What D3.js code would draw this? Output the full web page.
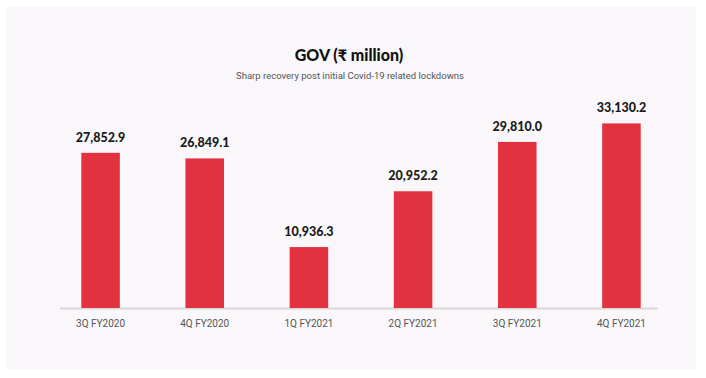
<!DOCTYPE html>
<html><head><meta charset="utf-8">
<script src="https://cdn.jsdelivr.net/npm/d3@7/dist/d3.min.js"></script>
<style>
html,body{margin:0;padding:0;background:#fff;}
svg{display:block;}
</style></head>
<body>
<svg id="chart" width="706" height="378"></svg>
<script>
const categories = ["3Q FY2020","4Q FY2020","1Q FY2021","2Q FY2021","3Q FY2021","4Q FY2021"];
const values = [27852.9, 26849.1, 10936.3, 20952.2, 29810.0, 33130.2];
const valueLabels = ["27,852.9","26,849.1","10,936.3","20,952.2","29,810.0","33,130.2"];
const title = "GOV (₹ million)";
const subtitle = "Sharp recovery post initial Covid-19 related lockdowns";

const svg = d3.select("#chart");

svg.append("rect").attr("x",6).attr("y",7).attr("width",690).attr("height",362)
  .attr("rx",4).attr("fill","#f9f7fa");

const x = d3.scaleBand().domain(categories).range([49, 673]).paddingInner(0.63).paddingOuter(0.31);
const y = d3.scaleLinear().domain([0, 35000]).range([308, 113]);

svg.append("text").attr("x",349).attr("y",61).attr("text-anchor","middle")
  .attr("font-family","Lato, 'Open Sans', sans-serif").attr("font-weight",900)
  .attr("font-size",16).attr("fill","#111").text(title);
svg.append("text").attr("x",350).attr("y",79).attr("text-anchor","middle")
  .attr("font-family","Roboto, 'Open Sans', sans-serif").attr("font-size",9.5)
  .attr("fill","#555").text(subtitle);

svg.append("line").attr("x1",60).attr("x2",658).attr("y1",308.5).attr("y2",308.5)
  .attr("stroke","#d9d7dc").attr("stroke-width",2);

svg.selectAll("rect.bar").data(values).join("rect").attr("class","bar")
  .attr("x",(d,i)=>x(categories[i])).attr("width",x.bandwidth())
  .attr("y",d=>y(d)).attr("height",d=>y(0)-y(d)).attr("fill","#e2323f");

svg.selectAll("text.val").data(values).join("text").attr("class","val")
  .attr("x",(d,i)=>x(categories[i])+x.bandwidth()/2).attr("y",d=>y(d)-11)
  .attr("text-anchor","middle").attr("font-family","Lato, 'Open Sans', sans-serif")
  .attr("font-weight",900).attr("font-size",12.5).attr("fill","#1a1a1a")
  .text((d,i)=>valueLabels[i]);

const axis = d3.axisBottom(x).tickSize(0).tickPadding(0);
const g = svg.append("g").attr("transform","translate(0,320)").call(axis);
g.select(".domain").remove();
g.selectAll("text").attr("font-family","Roboto, 'Open Sans', sans-serif")
  .attr("font-size",10).attr("fill","#555").attr("dy","0.71em");
</script>
</body></html>
